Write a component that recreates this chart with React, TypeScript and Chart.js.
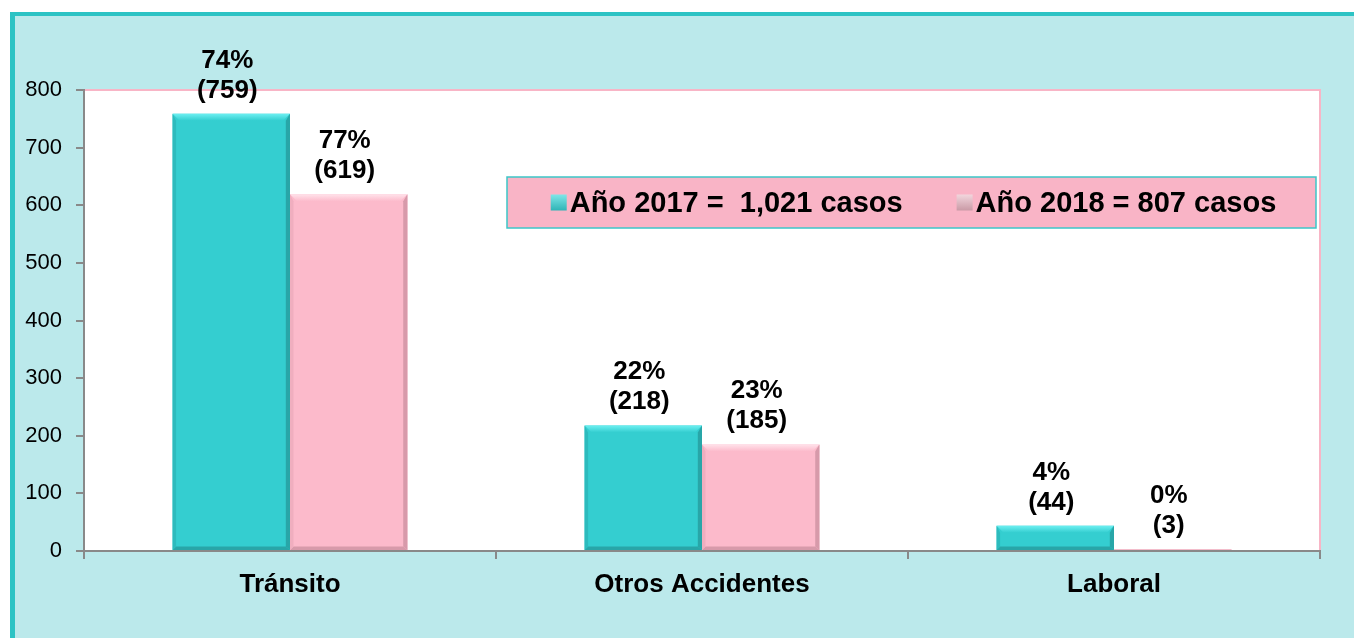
import React, { useEffect, useRef } from "react";
import { Chart, registerables } from "chart.js";

Chart.register(...registerables);

const categories = ["Tránsito", "Otros Accidentes", "Laboral"];
const values2017 = [759, 218, 44];
const values2018 = [619, 185, 3];
const pct2017 = [74, 22, 4];
const pct2018 = [77, 23, 0];
const seriesLabels = ["Año 2017 =  1,021 casos", "Año 2018 = 807 casos"];
const yMin = 0;
const yMax = 800;
const yStep = 100;

const FONT = "'Liberation Sans', Arial, sans-serif";
const TEAL = "#34CED0";
const PINK = "#FCBACB";
const PALETTE = [
  { main: TEAL, light: "#6EF0F2", dark: "#28A6A8", side: "#2DBBBD" },
  { main: PINK, light: "#FFE3EB", dark: "#D79AAA", side: "#F0AEBF" },
];

const bgPlugin = {
  id: "plotBg",
  beforeDraw(chart: any) {
    const { ctx, chartArea: a } = chart;
    ctx.save();
    ctx.fillStyle = "#FFFFFF";
    ctx.fillRect(a.left, a.top, a.right - a.left, a.bottom - a.top);
    ctx.strokeStyle = "#F8B5C6";
    ctx.lineWidth = 2;
    ctx.beginPath();
    ctx.moveTo(a.left, a.top);
    ctx.lineTo(a.right, a.top);
    ctx.lineTo(a.right, a.bottom);
    ctx.stroke();
    ctx.restore();
  },
};

const bevelPlugin = {
  id: "bevel",
  afterDatasetsDraw(chart: any) {
    const { ctx } = chart;
    chart.data.datasets.forEach((_: any, di: number) => {
      const meta = chart.getDatasetMeta(di);
      const pal = PALETTE[di];
      meta.data.forEach((el: any) => {
        const p = el.getProps(["x", "y", "base", "width"], true);
        const l = p.x - p.width / 2;
        const r = p.x + p.width / 2;
        const t = p.y;
        const b = p.base;
        const h = b - t;
        const bv = Math.min(7, h / 2.5);
        ctx.save();
        const g = ctx.createLinearGradient(0, t, 0, t + bv);
        g.addColorStop(0, pal.light);
        g.addColorStop(1, pal.main);
        ctx.fillStyle = g;
        ctx.beginPath();
        ctx.moveTo(l, t);
        ctx.lineTo(r, t);
        ctx.lineTo(r - bv, t + bv);
        ctx.lineTo(l + bv, t + bv);
        ctx.closePath();
        ctx.fill();
        ctx.fillStyle = pal.dark;
        ctx.beginPath();
        ctx.moveTo(r, t);
        ctx.lineTo(r, b);
        ctx.lineTo(r - bv * 0.6, b - bv * 0.5);
        ctx.lineTo(r - bv * 0.6, t + bv);
        ctx.closePath();
        ctx.fill();
        ctx.beginPath();
        ctx.moveTo(l, b);
        ctx.lineTo(r, b);
        ctx.lineTo(r - bv * 0.6, b - bv * 0.5);
        ctx.lineTo(l + bv * 0.5, b - bv * 0.5);
        ctx.closePath();
        ctx.fill();
        ctx.fillStyle = pal.side;
        ctx.beginPath();
        ctx.moveTo(l, t);
        ctx.lineTo(l + bv * 0.5, t + bv);
        ctx.lineTo(l + bv * 0.5, b - bv * 0.5);
        ctx.lineTo(l, b);
        ctx.closePath();
        ctx.fill();
        ctx.restore();
      });
    });
  },
};

const labelsPlugin = {
  id: "valueLabels",
  afterDatasetsDraw(chart: any) {
    const { ctx } = chart;
    const pcts = [pct2017, pct2018];
    ctx.save();
    ctx.font = `bold 26px ${FONT}`;
    ctx.fillStyle = "#000000";
    ctx.textAlign = "center";
    ctx.textBaseline = "alphabetic";
    chart.data.datasets.forEach((ds: any, di: number) => {
      const meta = chart.getDatasetMeta(di);
      meta.data.forEach((el: any, i: number) => {
        const x = el.x - 4;
        const y = el.y;
        ctx.fillText(`${pcts[di][i]}%`, x, y - 46);
        ctx.fillText(`(${ds.data[i]})`, x, y - 16);
      });
    });
    ctx.restore();
  },
};

const legendPlugin = {
  id: "boxLegend",
  afterDatasetsDraw(chart: any) {
    const { ctx, chartArea: a } = chart;
    const bx = a.left + 423;
    const by = a.top + 87;
    const bw = a.right - 4 - bx;
    const bh = 51;
    ctx.save();
    ctx.fillStyle = "#F9B4C6";
    ctx.fillRect(bx, by, bw, bh);
    ctx.strokeStyle = "#3CC6C8";
    ctx.lineWidth = 1.5;
    ctx.strokeRect(bx, by, bw, bh);
    ctx.font = `bold 29px ${FONT}`;
    ctx.textBaseline = "middle";
    ctx.textAlign = "left";
    const marker = 16;
    const gapM = 3;
    const gapItem = 54;
    const widths = chart.data.datasets.map((d: any) => ctx.measureText(d.label).width);
    const total = widths.reduce((s: number, w: number) => s + w + marker + gapM, 0) + gapItem;
    let x = bx + (bw - total) / 2 + 2;
    const cy = by + bh / 2;
    const mcolors = [
      ["#7FE6E8", "#2FB4B6"],
      ["#F2D6DD", "#C99AA6"],
    ];
    chart.data.datasets.forEach((d: any, i: number) => {
      const g = ctx.createLinearGradient(x, cy - marker / 2, x, cy + marker / 2);
      g.addColorStop(0, mcolors[i][0]);
      g.addColorStop(1, mcolors[i][1]);
      ctx.fillStyle = g;
      ctx.fillRect(x, cy - marker / 2, marker, marker);
      x += marker + gapM;
      ctx.fillStyle = "#000000";
      ctx.fillText(d.label, x, cy + 1);
      x += widths[i] + gapItem;
    });
    ctx.restore();
  },
};

export default function App() {
  const ref = useRef<HTMLCanvasElement | null>(null);

  useEffect(() => {
    document.body.style.margin = "0";
    document.body.style.overflow = "hidden";
    const canvas = ref.current;
    if (!canvas) return;
    const chart = new Chart(canvas, {
      type: "bar",
      data: {
        labels: categories,
        datasets: [
          {
            label: seriesLabels[0],
            data: values2017,
            backgroundColor: TEAL,
            borderWidth: 0,
            categoryPercentage: 0.57,
            barPercentage: 1,
          },
          {
            label: seriesLabels[1],
            data: values2018,
            backgroundColor: PINK,
            borderWidth: 0,
            categoryPercentage: 0.57,
            barPercentage: 1,
          },
        ],
      },
      options: {
        responsive: false,
        animation: false,
        layout: { padding: { top: 90, right: 34, left: 0, bottom: 0 } },
        plugins: {
          legend: { display: false },
          tooltip: { enabled: false },
        },
        scales: {
          x: {
            grid: {
              offset: true,
              drawOnChartArea: false,
              drawTicks: true,
              tickLength: 8,
              color: "#898989",
              lineWidth: 2,
            },
            border: { color: "#898989", width: 2 },
            ticks: {
              color: "#000000",
              font: { family: FONT, size: 26, weight: "bold" },
              padding: 10,
              maxRotation: 0,
            },
            afterFit(scale: any) {
              scale.height = 87;
            },
          },
          y: {
            min: yMin,
            max: yMax,
            ticks: {
              stepSize: yStep,
              color: "#000000",
              font: { family: FONT, size: 22 },
              padding: 14,
            },
            grid: {
              drawOnChartArea: false,
              drawTicks: true,
              tickLength: 8,
              color: "#898989",
              lineWidth: 2,
            },
            border: { color: "#898989", width: 2 },
            afterFit(scale: any) {
              scale.width = 84;
            },
          },
        },
      },
      plugins: [bgPlugin, bevelPlugin, labelsPlugin, legendPlugin],
    });
    return () => chart.destroy();
  }, []);

  return (
    <div
      style={{
        position: "fixed",
        left: 0,
        top: 0,
        width: 1354,
        height: 638,
        background: "#FFFFFF",
        overflow: "hidden",
      }}
    >
      <div
        style={{
          position: "absolute",
          left: 10,
          top: 12,
          width: 1400,
          height: 700,
          background: "#BBE9EB",
          borderLeft: "5px solid #2CC3C4",
          borderTop: "4px solid #2CC3C4",
        }}
      />
      <canvas
        ref={ref}
        width={1354}
        height={638}
        style={{ position: "absolute", left: 0, top: 0, width: 1354, height: 638 }}
      />
    </div>
  );
}
